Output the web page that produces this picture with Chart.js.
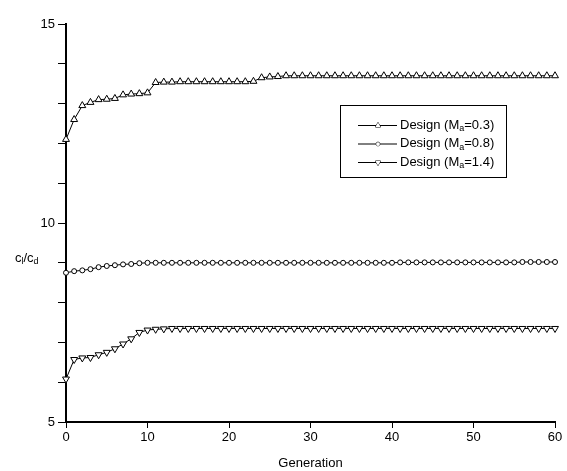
<!DOCTYPE html>
<html><head><meta charset="utf-8">
<script src="https://cdn.jsdelivr.net/npm/chart.js@4/dist/chart.umd.min.js"></script>
<style>html,body{margin:0;padding:0;background:#fff}#wrap{width:567px;height:471px}</style>
</head><body><div id="wrap"><canvas id="c" width="567" height="471"></canvas></div>
<script>
const generations = [0,1,2,3,4,5,6,7,8,9,10,11,12,13,14,15,16,17,18,19,20,21,22,23,24,25,26,27,28,29,30,31,32,33,34,35,36,37,38,39,40,41,42,43,44,45,46,47,48,49,50,51,52,53,54,55,56,57,58,59,60];
const designMa03 = [12.10,12.60,12.95,13.03,13.10,13.11,13.13,13.22,13.24,13.25,13.27,13.53,13.54,13.54,13.55,13.55,13.55,13.55,13.55,13.55,13.55,13.55,13.55,13.56,13.65,13.67,13.68,13.70,13.70,13.70,13.70,13.70,13.70,13.70,13.70,13.70,13.70,13.70,13.70,13.70,13.70,13.70,13.70,13.70,13.70,13.70,13.70,13.70,13.70,13.70,13.70,13.70,13.70,13.70,13.70,13.70,13.70,13.70,13.70,13.70,13.70];
const designMa08 = [8.75,8.79,8.81,8.84,8.89,8.92,8.94,8.96,8.97,8.99,9.00,9.00,9.00,9.00,9.00,9.00,9.00,9.00,9.00,9.00,9.00,9.00,9.00,9.00,9.00,9.00,9.00,9.00,9.00,9.00,9.00,9.00,9.00,9.00,9.00,9.00,9.00,9.00,9.00,9.00,9.00,9.01,9.01,9.01,9.01,9.01,9.01,9.01,9.01,9.01,9.01,9.01,9.01,9.01,9.01,9.01,9.02,9.02,9.02,9.02,9.02];
const designMa14 = [6.08,6.57,6.61,6.62,6.69,6.75,6.84,6.96,7.09,7.25,7.31,7.33,7.34,7.35,7.35,7.35,7.35,7.35,7.35,7.35,7.35,7.35,7.35,7.35,7.35,7.35,7.35,7.35,7.35,7.35,7.35,7.35,7.35,7.35,7.35,7.35,7.35,7.35,7.35,7.35,7.35,7.35,7.35,7.35,7.35,7.35,7.35,7.35,7.35,7.35,7.35,7.35,7.35,7.35,7.35,7.35,7.35,7.35,7.35,7.35,7.35];
const seriesNames = [['Design (M','a','=0.3)'],['Design (M','a','=0.8)'],['Design (M','a','=1.4)']];
const yTickLabels = [5,10,15];
const xTickStep = 10;

const FONT = '"Liberation Sans", Arial, sans-serif';
function pts(vals){ return generations.map((g,i)=>({x:g,y:vals[i]})); }
function ds(vals, style, radius, rot){
  return {data:pts(vals), borderColor:'#000', borderWidth:1, backgroundColor:'#fff',
    pointStyle:style, pointRadius:radius, pointRotation:rot, pointBorderWidth:1,
    pointBackgroundColor:'#fff', pointBorderColor:'#000', tension:0, clip:false};
}
const styles = [['triangle',4,0],['circle',2.5,0],['triangle',4,180]];

const extraText = {
  id:'extraText',
  afterDraw(chart){
    const ctx = chart.ctx; const ca = chart.chartArea;
    ctx.save();
    ctx.fillStyle = '#000'; ctx.strokeStyle='#000';
    // x title
    ctx.font = '13px '+FONT; ctx.textAlign='center'; ctx.textBaseline='middle';
    ctx.fillText('Generation', (ca.left+ca.right)/2, 463);
    // y title c_l/c_d
    ctx.textAlign='left';
    let x = 15, y = 258;
    const seg = [['c',0],['l',1],['/',0],['c',0],['d',1]];
    seg.forEach(([t,sub])=>{
      ctx.font = (sub? '9px ':'13px ')+FONT;
      ctx.fillText(t, x, y + (sub?4:0));
      x += ctx.measureText(t).width;
    });
    // legend box
    ctx.lineWidth = 1;
    ctx.strokeRect(340.5, 105.5, 166, 72);
    const rows = [125, 143.5, 162];
    chart.data.datasets.forEach((d,i)=>{
      const ry = rows[i];
      ctx.beginPath(); ctx.moveTo(358, ry+0.5); ctx.lineTo(397, ry+0.5); ctx.lineWidth=1; ctx.stroke();
      ctx.fillStyle='#fff';
      Chart.helpers.drawPoint(ctx, {pointStyle:styles[i][0], radius:styles[i][1]*0.75, rotation:styles[i][2], borderWidth:1}, 378, ry+0.5);
      ctx.fill(); 
      ctx.fillStyle='#000';
      let tx = 400;
      const parts = seriesNames[i];
      parts.forEach((p,k)=>{
        const sub = k===1;
        ctx.font = (sub?'9px ':'13px ')+FONT;
        ctx.fillText(p, tx, ry + (sub?4:0));
        tx += ctx.measureText(p).width;
      });
    });
    ctx.restore();
  }
};

new Chart(document.getElementById('c'), {
  type:'line',
  data:{datasets:[ds(designMa03,...styles[0]), ds(designMa08,...styles[1]), ds(designMa14,...styles[2])]},
  options:{
    responsive:false, animation:false, devicePixelRatio:1,
    layout:{padding:{left:0,top:24,right:12,bottom:0}},
    plugins:{legend:{display:false}, tooltip:{enabled:false}},
    scales:{
      x:{type:'linear', min:0, max:60,
        ticks:{stepSize:xTickStep, color:'#000', font:{family:FONT,size:13}, padding:2, maxRotation:0},
        grid:{drawOnChartArea:false, drawTicks:true, tickLength:6, color:'#000', lineWidth:1},
        border:{color:'#000', width:2},
        afterFit(s){ s.height = 49; }
      },
      y:{type:'linear', min:5, max:15,
        ticks:{stepSize:1, color:'#000', font:{family:FONT,size:13}, padding:3,
          callback:(v)=> yTickLabels.includes(v) ? String(v) : ''},
        grid:{drawOnChartArea:false, drawTicks:true, tickLength:8, color:'#000', lineWidth:1},
        border:{color:'#000', width:2},
        afterFit(s){ s.width = 66; }
      }
    }
  },
  plugins:[extraText]
});
</script></body></html>
